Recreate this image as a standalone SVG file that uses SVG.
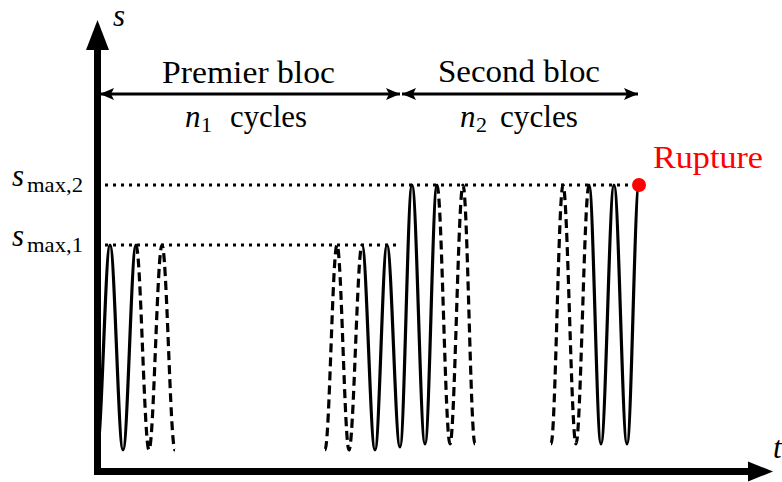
<svg xmlns="http://www.w3.org/2000/svg" width="782" height="482" viewBox="0 0 782 482">
<style>
text{font-family:"Liberation Serif","DejaVu Serif","Noto Serif",serif;fill:#000;}
.it{font-style:italic;}
.big{font-size:31px;}
.sub{font-size:22px;}
.axis{stroke:#000;stroke-width:7;fill:none;}
.dim{stroke:#000;stroke-width:3;fill:none;}
.dot{stroke:#000;stroke-width:3;fill:none;stroke-dasharray:3 5;}
.solid{stroke:#000;stroke-width:3.2;fill:none;stroke-linejoin:round;}
.dash{stroke:#000;stroke-width:3.2;fill:none;stroke-dasharray:9 5;}
</style>
<defs>
<marker id="ah" viewBox="0 0 14 12" refX="14" refY="6" markerWidth="14" markerHeight="12" markerUnits="userSpaceOnUse" orient="auto-start-reverse">
<path d="M0,0 L14,6 L0,12 L3,6 Z" fill="#000"/>
</marker>
</defs>
<g id="axes">
<line class="axis" x1="97.5" y1="475" x2="97.5" y2="48"/>
<polygon points="97.5,20 86,50 109,50" fill="#000"/>
<line class="axis" x1="94" y1="471.5" x2="750" y2="471.5"/>
<polygon points="773,471.5 748,461.5 748,481.5" fill="#000"/>
<text class="it big" x="113" y="26">s</text>
<text class="it big" x="773" y="458">t</text>
</g>
<g id="levels">
<line class="dot" x1="105" y1="185" x2="632" y2="185"/>
<line class="dot" x1="105" y1="245" x2="400" y2="245"/>
<text class="it big" x="12" y="186">s</text>
<text class="sub" x="27" y="192" textLength="56" lengthAdjust="spacingAndGlyphs">max,2</text>
<text class="it big" x="12" y="246">s</text>
<text class="sub" x="27" y="252" textLength="56" lengthAdjust="spacingAndGlyphs">max,1</text>
</g>
<g id="bloc1">
<line class="dim" x1="100" y1="94" x2="400" y2="94" marker-start="url(#ah)" marker-end="url(#ah)"/>
<text class="big" x="162" y="83" textLength="173" lengthAdjust="spacingAndGlyphs">Premier bloc</text>
<text class="it big" x="185" y="127">n</text>
<text class="sub" x="201" y="132">1</text>
<text class="big" x="230" y="127" textLength="77" lengthAdjust="spacingAndGlyphs">cycles</text>
</g>
<g id="bloc2">
<line class="dim" x1="402" y1="94" x2="638" y2="94" marker-start="url(#ah)" marker-end="url(#ah)"/>
<text class="big" x="438" y="82" textLength="162" lengthAdjust="spacingAndGlyphs">Second bloc</text>
<text class="it big" x="460" y="127">n</text>
<text class="sub" x="476" y="132">2</text>
<text class="big" x="500" y="127" textLength="78" lengthAdjust="spacingAndGlyphs">cycles</text>
</g>
<g id="signal">
<path class="solid" d="M97,450 C101.7,450 105.3,245 110,245 C114.7,245 118.3,450 123,450 C127.7,450 131.3,245 136,245"/>
<path class="dash" d="M136,245 C140.7,245 144.3,450 149,450 C153.7,450 157.3,245 162,245 C166.7,245 170.3,450 175,450"/>
<path class="dash" d="M325,450 C329.4,450 332.6,245 337,245 C341.4,245 344.6,450 349,450 C353.7,450 357.3,245 362,245"/>
<path class="solid" d="M362,245 C366.7,245 370.3,450 375,450 C379.4,450 382.6,245 387,245 C391.7,245 395.3,447 400,447 C404.4,447 407.6,185 412,185 C416.7,185 420.3,444 425,444 C429.4,444 432.6,185 437,185"/>
<path class="dash" d="M437,185 C441.7,185 445.3,444 450,444 C454.7,444 458.3,185 463,185 C467.4,185 470.6,444 475,444"/>
<path class="dash" d="M551,444 C555.4,444 558.6,185 563,185 C567.7,185 571.3,444 576,444 C580.7,444 584.3,185 589,185"/>
<path class="solid" d="M589,185 C593.4,185 596.6,444 601,444 C605.7,444 609.3,185 614,185 C618.7,185 622.3,444 627,444 C631.4,444 634.6,185 639,185"/>
</g>
<g id="rupture">
<circle cx="639" cy="185" r="7" fill="#ff0000"/>
<text class="big" x="653" y="168" textLength="110" lengthAdjust="spacingAndGlyphs" style="fill:#ff0000">Rupture</text>
</g>
</svg>
